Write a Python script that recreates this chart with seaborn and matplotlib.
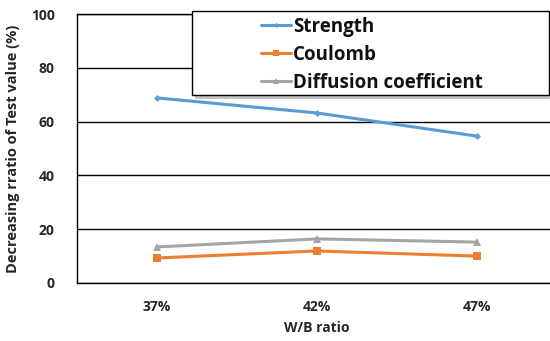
import matplotlib
matplotlib.use("Agg")
import matplotlib.pyplot as plt
import matplotlib.patheffects as pe
from matplotlib.patches import Rectangle
from matplotlib.lines import Line2D
import seaborn as sns
import pandas as pd

# W/B ratio categories and the decreasing ratio (%) of each test value
wb_ratio = ["37%", "42%", "47%"]
strength = [68.8, 63.2, 54.6]
coulomb = [9.3, 11.9, 10.0]
diffusion = [13.4, 16.4, 15.2]
series_names = ["Strength", "Coulomb", "Diffusion coefficient"]
y_ticks = [0, 20, 40, 60, 80, 100]

df = pd.DataFrame({
    "x": list(range(len(wb_ratio))) * 3,
    "value": strength + coulomb + diffusion,
    "series": [s for s in series_names for _ in wb_ratio],
})

sns.set_theme(style="white")
plt.rcParams["font.family"] = ["Open Sans", "DejaVu Sans"]

W, H = 550, 341
fig = plt.figure(figsize=(W / 100, H / 100), dpi=100)
ax = fig.add_axes([77 / W, 1 - 283 / H, 480 / W, 269 / H])

palette = {"Strength": "#5B9BD5", "Coulomb": "#ED7D31", "Diffusion coefficient": "#A5A5A5"}
markers = {"Strength": "D", "Coulomb": "s", "Diffusion coefficient": "^"}
sizes = {"Strength": 3.5, "Coulomb": 6, "Diffusion coefficient": 6}

sns.lineplot(data=df, x="x", y="value", hue="series", style="series",
             markers=markers, dashes=False, palette=palette,
             linewidth=2.2, markeredgewidth=0, legend=False, ax=ax)
for line, name in zip(ax.lines, series_names):
    line.set_markersize(sizes[name])

ax.set_xlim(-0.5, 2.5)
ax.set_ylim(0, 100)
ax.set_xticks(range(len(wb_ratio)))
ax.set_xticklabels(wb_ratio)
ax.set_yticks(y_ticks)
ax.tick_params(axis="x", length=0, labelsize=10, pad=12)
ax.tick_params(axis="y", length=0, labelsize=10, pad=16)
for lab in ax.get_xticklabels() + ax.get_yticklabels():
    lab.set_fontweight("bold")
    lab.set_color("#262626")

ax.grid(axis="y", color="black", linewidth=1)
ax.grid(axis="x", visible=False)
for side in ["left", "bottom", "top"]:
    ax.spines[side].set_color("black")
    ax.spines[side].set_linewidth(1)
ax.spines["right"].set_visible(False)

ax.set_xlabel("W/B ratio", fontsize=10, fontweight="bold", color="#262626", labelpad=5)
ax.set_ylabel("Decreasing rratio of Test value (%)", fontsize=10.5, fontweight="bold",
              color="#262626", labelpad=8)

# legend box with a drop shadow
box = Rectangle((192 / W, 1 - 95 / H), 357 / W, 84 / H, transform=fig.transFigure,
                facecolor="white", edgecolor="black", linewidth=1, zorder=5,
                path_effects=[pe.SimplePatchShadow(offset=(2, -3), shadow_rgbFace="#888888",
                                                   alpha=0.5), pe.Normal()])
fig.patches.append(box)

handles = [Line2D([], [], color=palette[n], marker=markers[n], markersize=sizes[n] * 0.75,
                  markeredgewidth=0, linewidth=2.2) for n in series_names]
leg = fig.legend(handles, series_names, loc="upper left",
                 bbox_to_anchor=(258 / W, 1 - 14 / H), fontsize=13.5,
                 frameon=False, handlelength=1.6, handletextpad=0.1,
                 labelspacing=0.42, borderpad=0.15, borderaxespad=0)
leg.set_zorder(6)
for t in leg.get_texts():
    t.set_fontweight("bold")
    t.set_color("#111111")

fig.savefig("out.png", dpi=100)
